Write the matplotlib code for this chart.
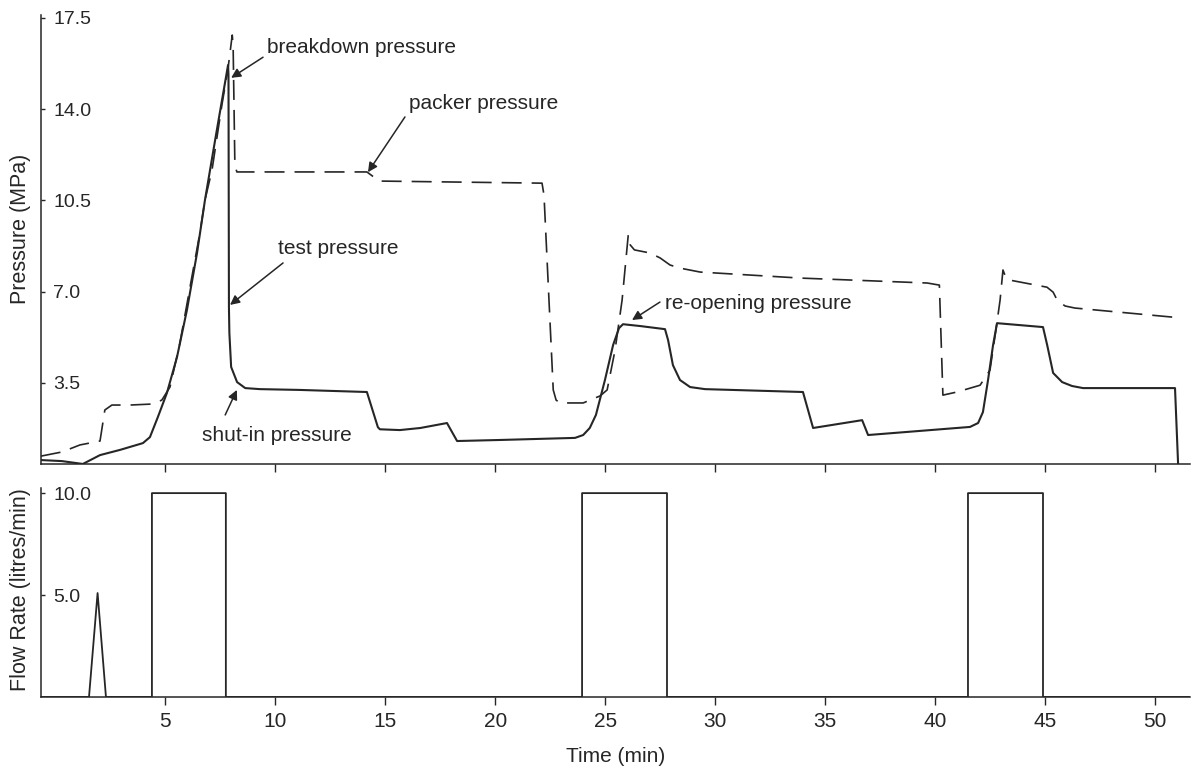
import matplotlib
matplotlib.use('Agg')
import matplotlib.pyplot as plt

plt.rcParams['font.family'] = ['Liberation Sans', 'DejaVu Sans']

# test interval pressure (MPa) vs time (min)
test_t = [-0.65, 0.31, 1.26, 2.04, 2.95, 3.99, 4.31, 4.67, 5.08, 5.54, 5.99, 6.45,
          6.81, 7.31, 7.86, 7.88, 7.90, 7.92, 8.0, 8.27, 8.64, 9.31, 11.1, 14.17,
          14.67, 14.76, 15.67, 16.6, 17.81, 18.27, 20.22, 23.63, 24.0, 24.3, 24.58,
          24.99, 25.36, 25.63, 25.81, 26.59, 27.72, 27.86, 28.08, 28.4, 28.86, 29.54,
          33.99, 34.45, 36.68, 36.95, 41.58, 41.95, 42.17, 42.4, 42.63, 42.81, 44.9,
          45.09, 45.36, 45.77, 46.22, 46.72, 50.9, 51.04]
test_p = [0.54, 0.50, 0.39, 0.73, 0.93, 1.19, 1.42, 2.19, 3.11, 4.49, 6.29, 8.48,
          10.51, 13.0, 15.69, 15.3, 6.4, 5.41, 4.11, 3.53, 3.30, 3.26, 3.23, 3.15,
          1.80, 1.72, 1.69, 1.77, 1.96, 1.27, 1.31, 1.39, 1.50, 1.77, 2.27,
          3.61, 4.95, 5.60, 5.75, 5.68, 5.56, 5.14, 4.18, 3.61, 3.34, 3.26,
          3.15, 1.77, 2.07, 1.50, 1.81, 1.96, 2.38, 3.60, 4.95, 5.79, 5.64,
          4.95, 3.88, 3.53, 3.38, 3.30, 3.30, 0.39]

# packer pressure (MPa) vs time (min)
packer_t = [-0.65, 0.31, 1.13, 2.04, 2.26, 2.58, 3.4, 4.45, 4.85, 5.22, 5.67, 6.13,
            6.58, 6.81, 7.13, 7.58, 7.85, 8.05, 8.09, 8.17, 8.26, 14.17, 14.54, 14.76,
            22.13, 22.22, 22.64, 22.77, 22.95, 24.0, 24.77, 25.09, 25.45, 25.77,
            26.05, 26.14, 26.33, 27.05, 27.5, 27.95, 28.41, 29.32, 33.86, 39.64,
            40.19, 40.35, 40.99, 42.04, 42.49, 42.76, 42.95, 43.08, 43.22, 43.4,
            45.08, 45.36, 45.54, 45.9, 46.35, 50.81]
packer_p = [0.69, 0.85, 1.12, 1.27, 2.46, 2.65, 2.65, 2.69, 2.84, 3.34, 5.02, 7.17,
            9.25, 10.51, 11.66, 14.16, 15.5, 16.84, 16.46, 11.86, 11.59, 11.59, 11.36, 11.24,
            11.16, 10.7, 3.23, 2.84, 2.73, 2.73, 3.0, 3.23, 4.76, 6.68,
            9.18, 8.79, 8.6, 8.48, 8.29, 8.02, 7.9, 7.75, 7.52, 7.33,
            7.25, 3.03, 3.15, 3.41, 3.99, 5.53, 6.68, 7.83, 7.52, 7.44,
            7.17, 6.98, 6.68, 6.45, 6.37, 6.02]

# injection flow rate (litres/min) vs time (min)
flow_t = [-0.62, 1.54, 1.93, 2.31, 4.40, 4.40, 7.76, 7.76, 23.95, 23.95, 27.81, 27.81,
          41.49, 41.49, 44.90, 44.90, 51.58]
flow_q = [0, 0, 5.1, 0, 0, 10.0, 10.0, 0, 0, 10.0, 10.0, 0,
          0, 10.0, 10.0, 0, 0]

pressure_ticks = [3.5, 7.0, 10.5, 14.0, 17.5]
flow_ticks = [5.0, 10.0]
time_ticks = [5, 10, 15, 20, 25, 30, 35, 40, 45, 50]

# annotation texts: (label, text position, arrow tail, arrow head)
notes = [
    ('breakdown pressure', (9.64, 16.38), (9.45, 15.99), (8.0, 15.2)),
    ('packer pressure', (16.08, 14.2), (15.9, 13.7), (14.22, 11.58)),
    ('test pressure', (10.13, 8.67), (10.36, 8.1), (7.95, 6.49)),
    ('shut-in pressure', (6.67, 1.5), (7.73, 2.27), (8.26, 3.23)),
    ('re-opening pressure', (27.72, 6.56), (27.49, 6.6), (26.22, 5.91)),
]

ink = '#262626'

fig = plt.figure(figsize=(11.92, 7.66), dpi=100)
ax1 = fig.add_axes([0.0348, 0.3943, 0.9635, 0.5858])
ax2 = fig.add_axes([0.0348, 0.0901, 0.9635, 0.2728], sharex=ax1)

ax1.plot(test_t, test_p, color=ink, lw=1.5, solid_joinstyle='round')
ax1.plot(packer_t, packer_p, color=ink, lw=1.2, ls=(0, (12, 6)))
ax2.plot(flow_t, flow_q, color=ink, lw=1.3)

for label, txt, tail, head in notes:
    ax1.text(txt[0], txt[1], label, fontsize=15, color=ink, ha='left', va='center')
    ax1.annotate('', xy=head, xytext=tail,
                 arrowprops=dict(arrowstyle='-|>', color=ink, lw=1.1,
                                 mutation_scale=14, shrinkA=0, shrinkB=0))

ax1.set_xlim(-0.62, 51.58)
ax1.set_ylim(0.39, 17.6)
ax2.set_ylim(0, 10.25)

for ax in (ax1, ax2):
    for side in ('top', 'right'):
        ax.spines[side].set_visible(False)
    for side in ('left', 'bottom'):
        ax.spines[side].set_color(ink)
        ax.spines[side].set_linewidth(1.1)
    ax.tick_params(axis='x', direction='out', length=5.8, width=1.0, color=ink,
                   labelsize=15, pad=5.2, labelcolor=ink)
    ax.tick_params(axis='y', direction='in', length=3, width=1.0, color=ink,
                   labelsize=14, pad=-8.3, labelcolor=ink)

ax1.set_xticks(time_ticks)
ax1.tick_params(axis='x', labelbottom=False)
ax1.set_yticks(pressure_ticks)
ax1.set_yticklabels([f'{v:.1f}' for v in pressure_ticks])
ax2.set_yticks(flow_ticks)
ax2.set_yticklabels([f'{v:.1f}' for v in flow_ticks])
for ax in (ax1, ax2):
    for lab in ax.get_yticklabels():
        lab.set_horizontalalignment('left')

ax1.set_ylabel('Pressure (MPa)', fontsize=15.5, color=ink)
ax1.yaxis.set_label_coords(-0.009, 0.524)
ax2.set_ylabel('Flow Rate (litres/min)', fontsize=15.5, color=ink)
ax2.yaxis.set_label_coords(-0.009, 0.512)
ax2.set_xlabel('Time (min)', fontsize=15, color=ink)
ax2.xaxis.set_label_coords(0.5, -0.239)

fig.savefig('out.png', dpi=100)
